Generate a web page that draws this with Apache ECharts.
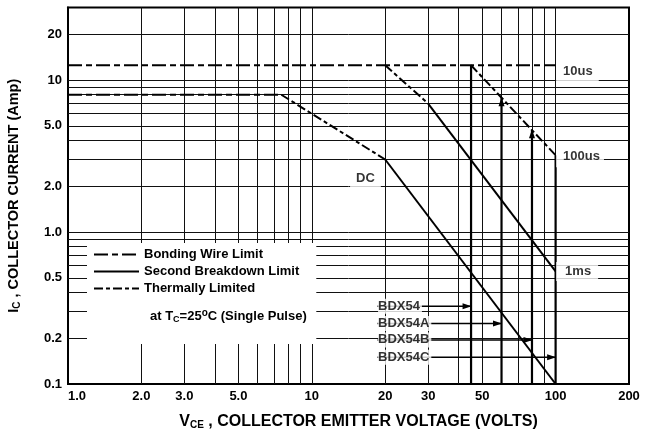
<!DOCTYPE html>
<html><head><meta charset="utf-8">
<script src="https://cdn.jsdelivr.net/npm/echarts@6/dist/echarts.min.js"></script>
<style>html,body{margin:0;padding:0;background:#fff}#c{width:649px;height:434px}</style>
</head><body><div id="c"></div>
<script>
// ---- axis ticks / labels ----
const xTickValues = [1, 2, 3, 5, 10, 20, 30, 50, 100, 200];
const xTickLabels = ['1.0', '2.0', '3.0', '5.0', '10', '20', '30', '50', '100', '200'];
const yTickValues = [0.1, 0.2, 0.5, 1, 2, 5, 10, 20];
const yTickLabels = ['0.1', '0.2', '0.5', '1.0', '2.0', '5.0', '10', '20'];
const xGridValues = [2, 3, 4, 5, 6, 7, 8, 9, 10, 20, 30, 40, 50, 60, 70, 80, 90, 100];
const yGridValues = [0.2, 0.3, 0.4, 0.5, 0.6, 0.7, 0.8, 0.9, 1, 2, 3, 4, 5, 6, 7, 8, 9, 10, 20];

// ---- curve segments (Vce [V], Ic [A]) ----
const bondingWireSegments = [
  [[1, 12.5], [100, 12.5]],
  [[1, 8], [7.5, 8]]
];
const thermalSegments = [
  [[7.5, 8], [20, 3]],
  [[20, 12.5], [30, 7]],
  [[45, 12.5], [100, 3.2]]
];
const secondBreakdownSegments = [
  [[20, 3], [100, 0.1]],
  [[30, 7], [100, 0.55]]
];
const deviceLimitSegments = [
  [[45, 12.5], [45, 0.1]],
  [[60, 7.65], [60, 0.1]],
  [[80, 4.7], [80, 0.1]],
  [[100, 3.2], [100, 0.1]]
];
const deviceTopArrow = [false, true, true, false];

// ---- device arrows ----
const deviceNames = ['BDX54', 'BDX54A', 'BDX54B', 'BDX54C'];
const deviceVce = [45, 60, 80, 100];
const deviceArrowIc = [0.325, 0.25, 0.195, 0.15];
const deviceLabelVce = 18.6;

// ---- curve annotations ----
const curveNames = ['10us', '100us', '1ms', 'DC'];
const curveLabelPos = [[100, 12.5], [100, 3.2], [100, 0.55], [16.6, 2.44]];

const legendNames = ['Bonding Wire Limit', 'Second Breakdown Limit', 'Thermally Limited'];
const noteName = 'at Tc=25°C (Single Pulse)';

const FONT = "'Liberation Sans', Arial, sans-serif";
const BOLD = { fontFamily: FONT, fontWeight: 'bold', fontSize: 13, color: '#000' };

function fmt(values, labels) {
  return function (v) {
    let best = 0, bd = Infinity;
    values.forEach((t, i) => { const d = Math.abs(Math.log10(t) - Math.log10(v)); if (d < bd) { bd = d; best = i; } });
    return labels[best];
  };
}

const series = [];
// grid lines
series.push({
  type: 'line', name: 'grid', data: [], z: 1, silent: true,
  markLine: {
    silent: true, symbol: 'none', animation: false, z: 1,
    label: { show: false },
    lineStyle: { color: '#111', width: 1, type: 'solid' },
    data: xGridValues.map(v => ({ xAxis: v })).concat(yGridValues.map(v => ({ yAxis: v })))
  }
});

function addSegments(segs, name, lineStyle, z) {
  segs.forEach(seg => series.push({
    type: 'line', name: name, data: seg, symbol: 'none', showSymbol: false, z: z || 3,
    lineStyle: Object.assign({ color: '#000', width: 2 }, lineStyle),
    itemStyle: { color: '#000' }, animation: false
  }));
}
addSegments(bondingWireSegments, legendNames[0], { type: [14, 4, 6, 4] });
addSegments(secondBreakdownSegments, legendNames[1], { type: 'solid' });
addSegments(thermalSegments, legendNames[2], { type: [9, 3, 4, 3] });

// device limit verticals
deviceLimitSegments.forEach((seg, i) => {
  series.push({
    type: 'line', name: 'limits', z: 3, animation: false, showSymbol: true,
    lineStyle: { color: '#000', width: 2.2 }, itemStyle: { color: '#000' },
    data: [
      deviceTopArrow[i]
        ? { value: seg[0], symbol: 'path://M5,0 L10,10 L0,10 Z', symbolSize: [6, 9], symbolOffset: [0, 4] }
        : { value: seg[0], symbol: 'none' },
      { value: seg[1], symbol: 'none' }
    ]
  });
});

// device arrows
deviceNames.forEach((n, i) => {
  series.push({
    type: 'line', name: 'arrow', z: 3, animation: false, showSymbol: true,
    lineStyle: { color: '#000', width: 1.5 }, itemStyle: { color: '#000' },
    data: [
      { value: [deviceLabelVce, deviceArrowIc[i]], symbol: 'none' },
      { value: [deviceVce[i], deviceArrowIc[i]], symbol: 'path://M0,0 L10,5 L0,10 Z', symbolSize: [9, 6], symbolOffset: [-4, 0] }
    ]
  });
});
// device labels
series.push({
  type: 'scatter', name: 'devlabels', z: 6, silent: true, animation: false,
  symbol: 'rect', symbolSize: 1, itemStyle: { color: 'rgba(0,0,0,0)' },
  label: Object.assign({ show: true, position: 'right', distance: 0, backgroundColor: '#fff', padding: [1, 2, 1, 0], formatter: p => p.data.name }, BOLD),
  data: deviceNames.map((n, i) => ({ name: n, value: [deviceLabelVce, deviceArrowIc[i]] }))
});
// curve labels
const curveLabelStyles = [
  { position: 'right', distance: 0, padding: [2, 6, 10, 7], offset: [0, 6] },
  { position: 'right', distance: 0, padding: [3, 4, 6, 7], offset: [0, 1] },
  { position: 'right', distance: 0, padding: [3, 7, 3, 9], offset: [0, 0] },
  { position: 'inside', padding: [3, 6, 13, 6], offset: [0, 5] }
];
series.push({
  type: 'scatter', name: 'curvelabels', z: 6, silent: true, animation: false,
  symbol: 'rect', symbolSize: 1, itemStyle: { color: 'rgba(0,0,0,0)' },
  data: curveNames.map((n, i) => ({
    name: n, value: curveLabelPos[i],
    label: Object.assign({ show: true, backgroundColor: '#fff', formatter: n }, BOLD, curveLabelStyles[i])
  }))
});
// dummy series for the note line in legend
series.push({ type: 'line', name: noteName, data: [], symbol: 'none', lineStyle: { opacity: 0 } });

const option = {
  backgroundColor: '#fff',
  animation: false,
  grid: { left: 68, right: 20, top: 7.5, bottom: 50, show: true, borderColor: '#000', borderWidth: 2, containLabel: false, outerBoundsMode: 'none' },
  xAxis: {
    type: 'log', logBase: 10, min: 1, max: 200,
    name: '{g|}{v|V}{s|CE}{v| , COLLECTOR EMITTER VOLTAGE (VOLTS)}',
    nameLocation: 'middle', nameGap: 30,
    nameTextStyle: {
      rich: {
        g: { width: 20 },
        v: { fontFamily: FONT, fontWeight: 'bold', fontSize: 16, color: '#000' },
        s: { fontFamily: FONT, fontWeight: 'bold', fontSize: 10, color: '#000', padding: [6, 0, 0, 0] }
      }
    },
    axisLine: { show: true, lineStyle: { color: '#000', width: 2 } },
    axisTick: { show: false },
    splitLine: { show: false },
    minorSplitLine: { show: false },
    axisLabel: Object.assign({ customValues: xTickValues, formatter: fmt(xTickValues, xTickLabels), margin: 6, alignMinLabel: 'left' }, BOLD)
  },
  yAxis: {
    type: 'log', logBase: 10, min: 0.1, max: 30,
    name: '{v|I}{s|C}{v| , COLLECTOR CURRENT (Amp)}',
    nameLocation: 'middle', nameGap: 46,
    nameTextStyle: {
      rich: {
        v: { fontFamily: FONT, fontWeight: 'bold', fontSize: 14.5, color: '#000' },
        s: { fontFamily: FONT, fontWeight: 'bold', fontSize: 10, color: '#000', padding: [7, 0, 0, 0] }
      }
    },
    axisLine: { show: true, lineStyle: { color: '#000', width: 2 } },
    axisTick: { show: false },
    splitLine: { show: false },
    axisLabel: Object.assign({ customValues: yTickValues, formatter: fmt(yTickValues, yTickLabels), margin: 6 }, BOLD)
  },
  legend: [{
    left: 87, top: 243, orient: 'vertical', selectedMode: false,
    itemWidth: 45, itemHeight: 14, itemGap: 4,
    padding: [5, 17, 49, 6], backgroundColor: '#fff', z: 4,
    itemStyle: { opacity: 0 },
    data: legendNames,
    textStyle: BOLD
  }, {
    left: 140, top: 303, orient: 'vertical', selectedMode: false,
    itemWidth: 0, itemHeight: 14, padding: 5, z: 5,
    data: [{ name: noteName, icon: 'none' }],
    formatter: () => '{t|at T}{s|C}{t|=25}{o|o}{t|C (Single Pulse)}',
    textStyle: {
      rich: {
        t: { fontFamily: FONT, fontWeight: 'bold', fontSize: 13, color: '#000' },
        s: { fontFamily: FONT, fontWeight: 'bold', fontSize: 9, color: '#000', padding: [6, 0, 0, 0] },
        o: { fontFamily: FONT, fontWeight: 'bold', fontSize: 10, color: '#000', padding: [0, 0, 7, 0] }
      }
    }
  }],
  series: series
};

const chart = echarts.init(document.getElementById('c'), null, { renderer: 'canvas' });
chart.setOption(option);
</script>
</body></html>
